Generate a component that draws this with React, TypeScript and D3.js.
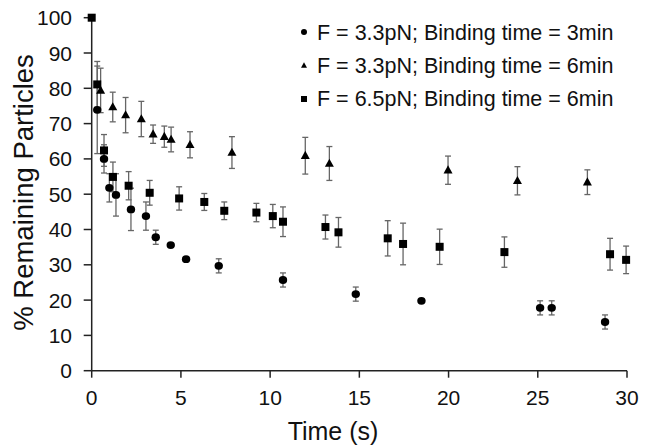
import React from "react";
import * as d3 from "d3";

const xTicks = [0, 5, 10, 15, 20, 25, 30];
const yTicks = [0, 10, 20, 30, 40, 50, 60, 70, 80, 90, 100];

const circleX = [0.31, 0.69, 0.99, 1.36, 2.2, 3.04, 3.59, 4.43, 5.29, 7.12, 10.72, 14.8, 18.48, 25.13, 25.78, 28.77];
const circleY = [73.9, 60, 51.8, 49.8, 45.7, 43.8, 37.8, 35.6, 31.6, 29.7, 25.7, 21.7, 19.8, 17.8, 17.8, 13.8];
const circleErr = [12.4, 4, 4, 6, 6, 4, 2, 0, 0, 2, 2, 2, 0, 2, 2, 2];

const triX = [0.5, 1.18, 1.9, 2.78, 3.44, 4.07, 4.45, 5.51, 7.86, 11.97, 13.32, 19.97, 23.86, 27.78];
const triY = [79.4, 74.7, 72.4, 71.3, 67, 66.3, 65.5, 64, 61.8, 60.9, 58.7, 56.8, 53.8, 53.4];
const triErr = [6.3, 4.2, 5, 5, 2.6, 3, 3.5, 3.7, 4.5, 5.2, 4.8, 4, 4, 3.5];

const sqX = [0, 0.31, 0.69, 1.19, 2.07, 3.25, 4.9, 6.31, 7.43, 9.23, 10.15, 10.72, 13.1, 13.83, 16.59, 17.45, 19.5, 23.13, 29.05, 29.95];
const sqY = [100, 81.1, 62.4, 54.9, 52.4, 50.4, 48.8, 47.8, 45.3, 44.8, 43.8, 42.2, 40.7, 39.2, 37.5, 35.9, 35.1, 33.6, 33, 31.4];
const sqErr = [0, 6.5, 4.5, 4.2, 4, 3.5, 3.3, 2.4, 2.5, 2.6, 3.3, 4.2, 3.4, 4.2, 5, 5.9, 5, 4.3, 4.5, 3.9];

const legendLabels = [
  "F = 3.3pN; Binding time = 3min",
  "F = 3.3pN; Binding time = 6min",
  "F = 6.5pN; Binding time = 6min",
];

const W = 646;
const H = 447;
const FONT = "'Liberation Sans', Arial, sans-serif";

export default function App() {
  const x = d3.scaleLinear().domain([0, 30]).range([91.7, 627]);
  const y = d3.scaleLinear().domain([0, 100]).range([370.7, 17.7]);

  const errBars = (xs: number[], ys: number[], es: number[], key: string) =>
    xs.map((xv, i) => {
      const e = es[i];
      if (!e) return null;
      const cx = x(xv);
      const y1 = y(ys[i] + e);
      const y2 = y(ys[i] - e);
      return (
        <g key={key + i} stroke="#666" strokeWidth={1.3}>
          <line x1={cx} x2={cx} y1={y1} y2={y2} />
          <line x1={cx - 3} x2={cx + 3} y1={y1} y2={y1} />
          <line x1={cx - 3} x2={cx + 3} y1={y2} y2={y2} />
        </g>
      );
    });

  const triPath = (cx: number, cy: number, s: number) => {
    const h = s * 0.9;
    return `M${cx},${cy - h * 0.6}L${cx + s / 2},${cy + h * 0.4}L${cx - s / 2},${cy + h * 0.4}Z`;
  };

  return (
    <svg
      width={W}
      height={H}
      style={{ position: "absolute", left: 0, top: 0, background: "#fff" }}
      fontFamily={FONT}
    >
      <rect width={W} height={H} fill="#fff" />
      {/* axes */}
      <g stroke="#222" strokeWidth={1.5}>
        <line x1={x(0)} x2={x(0)} y1={y(0)} y2={y(100)} />
        <line x1={x(0)} x2={x(30)} y1={y(0)} y2={y(0)} />
        {yTicks.map((t) => (
          <line key={"yt" + t} x1={x(0) - 8} x2={x(0)} y1={y(t)} y2={y(t)} />
        ))}
        {xTicks.map((t) => (
          <line key={"xt" + t} x1={x(t)} x2={x(t)} y1={y(0)} y2={y(0) + 7} />
        ))}
      </g>
      {yTicks.map((t) => (
        <text
          key={"yl" + t}
          x={72}
          y={y(t)}
          dy="0.36em"
          textAnchor="end"
          fontSize={21}
          fill="#111"
        >
          {t}
        </text>
      ))}
      {xTicks.map((t) => (
        <text
          key={"xl" + t}
          x={x(t)}
          y={405}
          textAnchor="middle"
          fontSize={21}
          fill="#111"
        >
          {t}
        </text>
      ))}
      <text x={333} y={440} textAnchor="middle" fontSize={25} fill="#111">
        Time (s)
      </text>
      <text
        transform={`translate(33,${192.5}) rotate(-90)`}
        textAnchor="middle"
        fontSize={27.5}
        fill="#111"
      >
        % Remaining Particles
      </text>

      {/* error bars */}
      {errBars(circleX, circleY, circleErr, "ce")}
      {errBars(triX, triY, triErr, "te")}
      {errBars(sqX, sqY, sqErr, "se")}

      {/* markers */}
      {circleX.map((xv, i) => (
        <ellipse key={"c" + i} cx={x(xv)} cy={y(circleY[i])} rx={4.2} ry={3.9} fill="#000" />
      ))}
      {triX.map((xv, i) => (
        <path key={"t" + i} d={triPath(x(xv), y(triY[i]), 9)} fill="#000" />
      ))}
      {sqX.map((xv, i) => (
        <rect key={"s" + i} x={x(xv) - 4} y={y(sqY[i]) - 4} width={8} height={8} fill="#000" />
      ))}

      {/* legend */}
      <g fontSize={21.5} fill="#111">
        <circle cx={304} cy={32} r={3} fill="#000" />
        <path d={triPath(304, 65.5, 6)} fill="#000" />
        <rect x={301} y={96} width={6} height={6} fill="#000" />
        {legendLabels.map((l, i) => (
          <text key={"lg" + i} x={317} y={32 + i * 33.3} dy="0.36em">
            {l}
          </text>
        ))}
      </g>
    </svg>
  );
}
